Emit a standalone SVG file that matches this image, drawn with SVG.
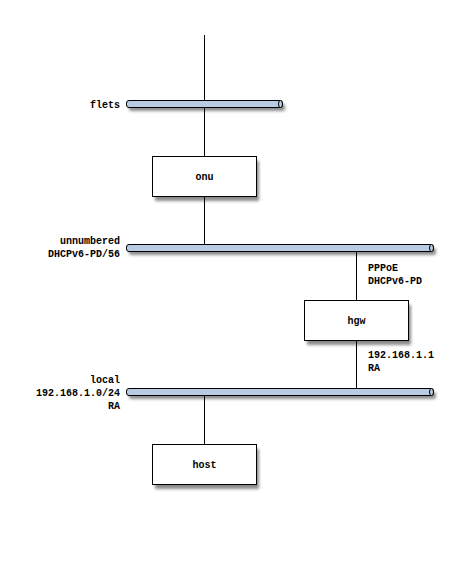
<svg xmlns="http://www.w3.org/2000/svg" width="456" height="588" viewBox="0 0 456 588">
<style>
.lbl{font-family:"Liberation Mono","DejaVu Sans Mono",monospace;font-weight:bold;font-size:10px;fill:#000}
.end{text-anchor:end}
.mid{text-anchor:middle}
.box{fill:#fff;stroke:#000;stroke-width:1}
.bar{fill:#b9cbe4;stroke:#000;stroke-width:1}
.shadow{fill:#000;opacity:0.45;filter:url(#blur)}
.wire{stroke:#000;stroke-width:1;fill:none}
</style>
<defs>
<filter id="blur" x="-20%" y="-50%" width="140%" height="200%"><feGaussianBlur stdDeviation="1.6"/></filter>
</defs>
<rect width="456" height="588" fill="#fff"/>
<g id="connectors">
<line class="wire" x1="204.5" y1="35" x2="204.5" y2="100"/>
<line class="wire" x1="204.5" y1="108" x2="204.5" y2="156"/>
<line class="wire" x1="204.5" y1="196" x2="204.5" y2="244"/>
<line class="wire" x1="356.5" y1="252" x2="356.5" y2="300"/>
<line class="wire" x1="356.5" y1="340" x2="356.5" y2="388"/>
<line class="wire" x1="204.5" y1="396" x2="204.5" y2="444"/>
</g>
<g id="net-flets">
<rect class="shadow" x="129" y="104" width="156" height="7" rx="2"/>
<rect class="bar" x="126.5" y="100.5" width="156" height="7" rx="2.5"/>
<ellipse class="bar" cx="280.5" cy="104" rx="2" ry="3.5"/>
<text class="lbl end" x="120" y="107.5">flets</text>
</g>
<g id="net-unnumbered">
<rect class="shadow" x="129" y="248" width="307" height="7" rx="2"/>
<rect class="bar" x="126.5" y="244.5" width="307" height="7" rx="2.5"/>
<ellipse class="bar" cx="431.5" cy="248" rx="2" ry="3.5"/>
<text class="lbl end" x="120" y="244">unnumbered</text>
<text class="lbl end" x="120" y="257">DHCPv6-PD/56</text>
</g>
<g id="net-local">
<rect class="shadow" x="129" y="392" width="307" height="7" rx="2"/>
<rect class="bar" x="126.5" y="388.5" width="307" height="7" rx="2.5"/>
<ellipse class="bar" cx="431.5" cy="392" rx="2" ry="3.5"/>
<text class="lbl end" x="120" y="383">local</text>
<text class="lbl end" x="120" y="396">192.168.1.0/24</text>
<text class="lbl end" x="120" y="409">RA</text>
</g>
<g id="node-onu">
<rect class="shadow" x="155" y="161" width="104" height="40"/>
<rect class="box" x="152.5" y="156.5" width="104" height="40"/>
<text class="lbl mid" x="204.5" y="180">onu</text>
</g>
<g id="node-hgw">
<rect class="shadow" x="307" y="305" width="104" height="40"/>
<rect class="box" x="304.5" y="300.5" width="104" height="40"/>
<text class="lbl mid" x="356.5" y="324">hgw</text>
<text class="lbl" x="368" y="271">PPPoE</text>
<text class="lbl" x="368" y="284">DHCPv6-PD</text>
<text class="lbl" x="368" y="358">192.168.1.1</text>
<text class="lbl" x="368" y="371">RA</text>
</g>
<g id="node-host">
<rect class="shadow" x="155" y="449" width="104" height="40"/>
<rect class="box" x="152.5" y="444.5" width="104" height="40"/>
<text class="lbl mid" x="204.5" y="468">host</text>
</g>
</svg>
